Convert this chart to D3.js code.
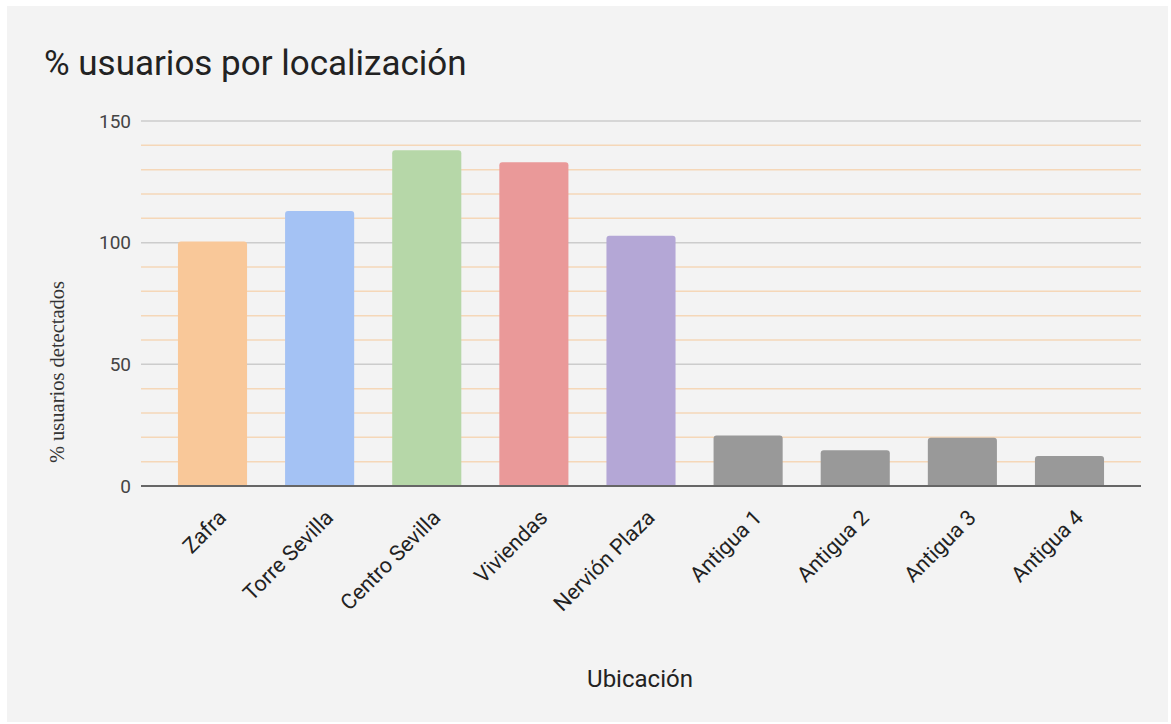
<!DOCTYPE html>
<html>
<head>
<meta charset="utf-8">
<script src="https://cdn.jsdelivr.net/npm/d3@7"></script>
<style>
  body { margin: 0; background: #fff; }
  svg { display: block; }
</style>
</head>
<body>
<div id="chart"></div>
<script>
// chart data
var categories = ["Zafra", "Torre Sevilla", "Centro Sevilla", "Viviendas", "Nervión Plaza",
                  "Antigua 1", "Antigua 2", "Antigua 3", "Antigua 4"];
var values = [100.5, 113, 138, 133, 102.8, 20.8, 14.7, 19.8, 12.3];
var barColors = ["#f9c899", "#a4c2f4", "#b6d7a8", "#ea9999", "#b4a7d6",
                 "#999999", "#999999", "#999999", "#999999"];
var majorTicks = [0, 50, 100, 150];
var minorTicks = [10, 20, 30, 40, 60, 70, 80, 90, 110, 120, 130, 140];

var width = 1171,
    height = 724,
    plotLeft = 141, plotRight = 1141,
    plotTop = 121, plotBottom = 486;

var svg = d3.select("#chart").append("svg")
    .attr("width", width)
    .attr("height", height);

// panel background
svg.append("rect")
    .attr("x", 7).attr("y", 6)
    .attr("width", 1161).attr("height", 716)
    .attr("fill", "#f3f3f3");

var x = d3.scaleBand()
    .domain(categories)
    .range([plotLeft, plotRight])
    .paddingInner(0.355)
    .paddingOuter(0.345);

var y = d3.scaleLinear()
    .domain([0, 150])
    .range([plotBottom, plotTop]);

// gridlines
svg.append("g").selectAll("line")
    .data(minorTicks)
  .enter().append("line")
    .attr("x1", plotLeft).attr("x2", plotRight)
    .attr("y1", function(d) { return y(d); })
    .attr("y2", function(d) { return y(d); })
    .attr("stroke", "#f5d7b8")
    .attr("stroke-width", 1.5);

svg.append("g").selectAll("line")
    .data(majorTicks.filter(function(d) { return d > 0; }))
  .enter().append("line")
    .attr("x1", plotLeft).attr("x2", plotRight)
    .attr("y1", function(d) { return y(d); })
    .attr("y2", function(d) { return y(d); })
    .attr("stroke", "#cccccc")
    .attr("stroke-width", 1.5);

// y axis labels
var yAxis = d3.axisLeft(y).tickValues(majorTicks).tickSize(0).tickPadding(10);
var yg = svg.append("g")
    .attr("transform", "translate(" + plotLeft + ",0)")
    .call(yAxis);
yg.select(".domain").remove();
yg.selectAll("text")
    .attr("font-family", "Roboto, sans-serif")
    .attr("font-size", 19)
    .attr("fill", "#444");

// bars with rounded top corners
var r = 3;
svg.append("g").selectAll("path")
    .data(values)
  .enter().append("path")
    .attr("fill", function(d, i) { return barColors[i]; })
    .attr("d", function(d, i) {
      var x0 = x(categories[i]), w = x.bandwidth(),
          y0 = y(d), y1 = y(0);
      return "M" + x0 + "," + y1 +
             "V" + (y0 + r) +
             "Q" + x0 + "," + y0 + " " + (x0 + r) + "," + y0 +
             "H" + (x0 + w - r) +
             "Q" + (x0 + w) + "," + y0 + " " + (x0 + w) + "," + (y0 + r) +
             "V" + y1 + "Z";
    });

// zero line
svg.append("line")
    .attr("x1", plotLeft).attr("x2", plotRight)
    .attr("y1", y(0)).attr("y2", y(0))
    .attr("stroke", "#666")
    .attr("stroke-width", 2);

// x labels
svg.append("g").selectAll("text")
    .data(categories)
  .enter().append("text")
    .attr("transform", function(d) {
      return "translate(" + (x(d) + x.bandwidth() / 2 + 15) + "," + 519 + ") rotate(-45)";
    })
    .attr("text-anchor", "end")
    .attr("font-family", "Roboto, sans-serif")
    .attr("font-size", 21.5)
    .attr("fill", "#222")
    .text(function(d) { return d; });

// titles
svg.append("text")
    .attr("x", 44).attr("y", 75)
    .attr("font-family", "Roboto, sans-serif")
    .attr("font-size", 35)
    .attr("fill", "#222")
    .text("% usuarios por localización");

svg.append("text")
    .attr("transform", "translate(64,372) rotate(-90)")
    .attr("text-anchor", "middle")
    .attr("font-family", "'Liberation Serif', serif")
    .attr("font-size", 20.5)
    .attr("fill", "#333")
    .text("% usuarios detectados");

svg.append("text")
    .attr("x", 640).attr("y", 687)
    .attr("text-anchor", "middle")
    .attr("font-family", "Roboto, sans-serif")
    .attr("font-size", 24)
    .attr("fill", "#222")
    .text("Ubicación");
</script>
</body>
</html>
